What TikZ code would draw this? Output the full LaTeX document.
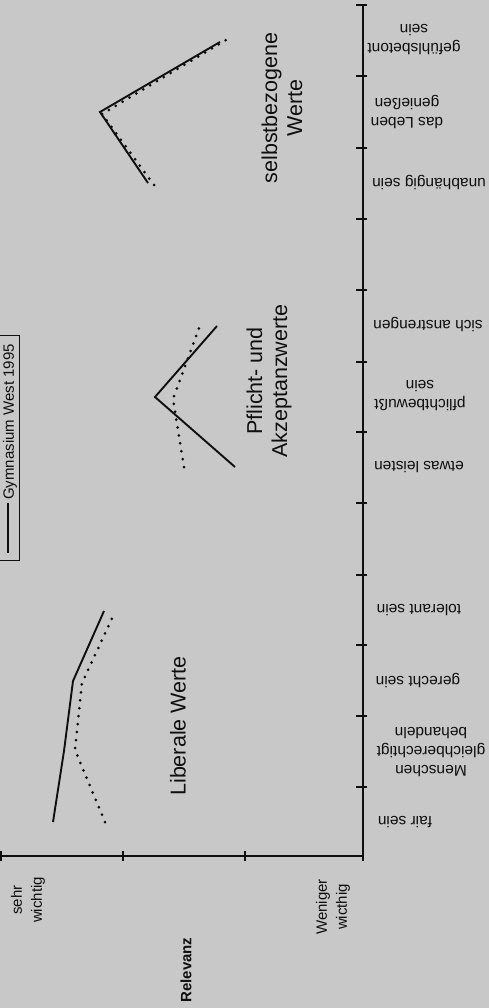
\documentclass[tikz,border=0pt]{standalone}
\usepackage{fontspec}
\setmainfont{Liberation Sans}
\definecolor{bg}{RGB}{200,200,200}
\definecolor{ink}{RGB}{15,15,15}
\begin{document}
\begin{tikzpicture}[x=1pt,y=-1pt,
  axis/.style={line width=1.2pt, ink},
  solidline/.style={line width=1.9pt, ink, line join=miter},
  dotline/.style={line width=3pt, ink, line cap=round, dash pattern=on 0pt off 8pt},
  cat/.style={rotate=180, align=center, font=\fontsize{15.5}{19}\selectfont, inner sep=0pt, text=ink},
  grp/.style={rotate=90, align=center, font=\fontsize{21.5}{25}\selectfont, inner sep=0pt, text=ink},
  lab/.style={rotate=90, align=center, font=\fontsize{15}{20}\selectfont, inner sep=0pt, text=ink}]
\fill[bg] (0,0) rectangle (489,1008);
\useasboundingbox (0,0) rectangle (489,1008);

% axes
\coordinate (top) at (363,5);
\coordinate (origin) at (363,856);
\coordinate (left) at (1,856);
\draw[axis] (top) -- (origin) -- (left);
\foreach \y in {5,76,148,219,290,362,432,503,575,645,716,787}
  \draw[axis] (356,\y) -- (367,\y);
\foreach \x in {1,123,245,363}
  \draw[axis] (\x,851) -- (\x,861);

% category labels
\node[cat] (c1) at (414,40) {gefühlsbetont\\sein};
\node[cat] (c2) at (407,112) {das Leben\\genießen};
\node[cat] (c3) at (429,183) {unabhängig sein};
\node[cat] (c5) at (428,325) {sich anstrengen};
\node[cat] (c6) at (420,396) {pflichtbewußt\\sein};
\node[cat] (c7) at (419,467) {etwas leisten};
\node[cat] (c9) at (419,610) {tolerant sein};
\node[cat] (c10) at (418,680) {gerecht sein};
\node[cat] (c11) at (431,752) {Menschen\\gleichberechtigt\\behandeln};
\node[cat] (c12) at (405,822) {fair sein};

% group labels
\node[grp] (g1) at (282,108) {selbstbezogene\\Werte};
\node[grp] (g2) at (269,381) {Pflicht- und\\Akzeptanzwerte};
\node[grp] (g3) at (178,726) {Liberale Werte};

% relevance axis labels
\node[lab] (sw) at (28,900) {sehr\\wichtig};
\node[lab] (ww) at (333,907) {Weniger\\wicthig};
\node[lab, font=\fontsize{15}{20}\selectfont\bfseries] (rel) at (186,970) {Relevanz};

% legend
\draw[line width=1pt, ink] (-1,335) rectangle (19,560);
\coordinate (l1) at (8,503);
\coordinate (l2) at (8,553);
\draw[line width=1.3pt, ink] (l1) -- (l2);
\node[lab] (leg) at (10,422) {Gymnasium West 1995};

% data: selbstbezogene Werte
\coordinate (s1) at (148,183);
\coordinate (s2) at (100,112);
\coordinate (s3) at (220,42);
\coordinate (d1) at (154,185);
\coordinate (d2) at (102,114);
\coordinate (d3) at (226,40);
\draw[dotline] (d1) -- (d2) -- (d3);
\draw[solidline] (s1) -- (s2) -- (s3);

% data: Pflicht- und Akzeptanzwerte
\coordinate (p1) at (235,467);
\coordinate (p2) at (155,397);
\coordinate (p3) at (217,326);
\coordinate (q1) at (184,467);
\coordinate (q2) at (173,399);
\coordinate (q3) at (199,328);
\draw[solidline] (p1) -- (p2) -- (p3);
\draw[dotline] (q1) -- (q2) -- (q3);

% data: Liberale Werte
\coordinate (a1) at (53,822);
\coordinate (a2) at (64,751);
\coordinate (a3) at (73,681);
\coordinate (a4) at (104,611);
\coordinate (b1) at (105,822);
\coordinate (b2) at (75,750);
\coordinate (b3) at (82,683);
\coordinate (b4) at (115,612);
\draw[solidline] (a1) -- (a2) -- (a3) -- (a4);
\draw[dotline] (b1) -- (b2) -- (b3) -- (b4);
\end{tikzpicture}
\end{document}
